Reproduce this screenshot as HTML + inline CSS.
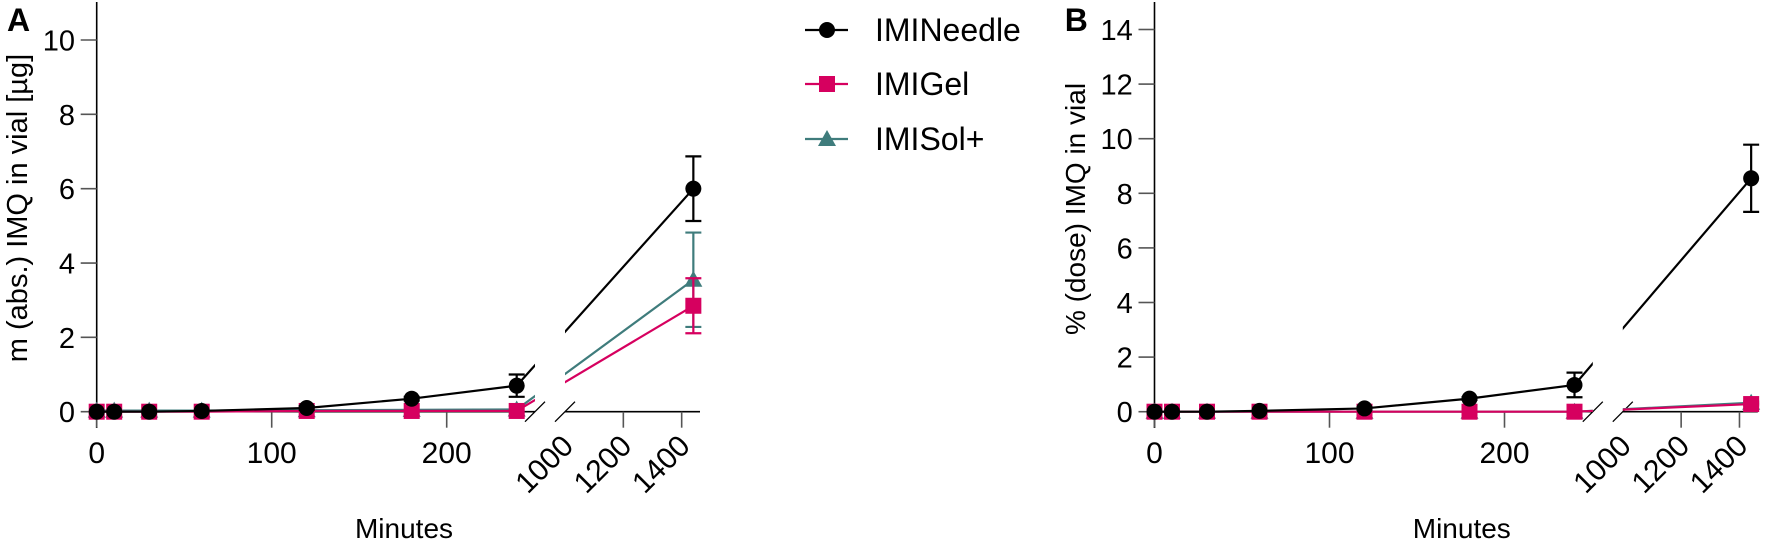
<!DOCTYPE html>
<html><head><meta charset="utf-8"><style>
html,body{margin:0;padding:0;background:#fff;}
svg{display:block;font-family:"Liberation Sans",Arial,sans-serif;}
</style></head><body>
<svg id="chart" width="1772" height="542" viewBox="0 0 1772 542" xmlns="http://www.w3.org/2000/svg"></svg>
<script>
const times = [0, 10, 30, 60, 120, 180, 240, 1440];
const seriesNames = ["IMINeedle", "IMIGel", "IMISol+"];
const aNeedle = [0, 0, 0, 0.02, 0.1, 0.35, 0.7, 6.0];
const aNeedleErr = [0, 0, 0, 0, 0.05, 0.05, 0.3, 0.87];
const aGel = [0, 0, 0, 0, 0.02, 0.02, 0.02, 2.85];
const aGelErr = [0, 0, 0, 0, 0, 0, 0, 0.74];
const aSol = [0.03, 0.03, 0.03, 0.03, 0.04, 0.05, 0.06, 3.55];
const aSolErr = [0, 0, 0, 0, 0, 0, 0, 1.27];
const bNeedle = [0, 0, 0, 0.03, 0.12, 0.48, 0.98, 8.55];
const bNeedleErr = [0, 0, 0, 0, 0.05, 0.05, 0.45, 1.23];
const bGel = [0, 0, 0, 0, 0, 0, 0, 0.28];
const bGelErr = [0, 0, 0, 0, 0, 0, 0, 0.05];
const bSol = [0, 0, 0, 0, 0, 0, 0, 0.33];
const bSolErr = [0, 0, 0, 0, 0, 0, 0, 0.05];
const aYTicks = [0, 2, 4, 6, 8, 10];
const bYTicks = [0, 2, 4, 6, 8, 10, 12, 14];
const xTicksLeft = [0, 100, 200];
const xTicksRight = [1000, 1200, 1400];

const NS = "http://www.w3.org/2000/svg";
const svg = document.getElementById("chart");
const colors = ["#000000", "#d6005f", "#3f7c7c"];
function mk(tag, attrs, parent) {
  const e = document.createElementNS(NS, tag);
  for (const k in attrs) e.setAttribute(k, attrs[k]);
  (parent || svg).appendChild(e);
  return e;
}

function panel(ox, yMax, yScale, yTicks, series, errs, letter, ylabel, pname, ylSize) {
  const g = mk("g", {});
  
  
  const y0 = 411.7;
  const X = t => t <= 500 ? ox + 96.7 + 1.75 * t : ox + 565 + 0.2917 * (t - 1000);
  const Y = v => y0 - v * yScale;
  const gapL = ox + 535, gapR = ox + 565, endR = ox + 700;
  const cid = pname + "-clip";
  const cp = mk("clipPath", { id: cid }, g);
  mk("rect", { x: 0, y: 0, width: gapL, height: 542 }, cp);
  mk("rect", { x: gapR, y: 0, width: 1772 - gapR, height: 542 }, cp);
  const ya = mk("line", { x1: ox + 96.7, y1: 2, x2: ox + 96.7, y2: 428, stroke: "#000", "stroke-width": 1.6 }, g);
  
  
  yTicks.forEach(v => {
    const tk = mk("line", { x1: ox + 80.7, y1: Y(v), x2: ox + 96.7, y2: Y(v), stroke: "#555", "stroke-width": 1.6 }, g);
    
    
    const tl = mk("text", { x: ox + 75, y: Y(v) + 10.5, "text-anchor": "end", "font-size": 29, fill: "#000" }, g);
    tl.textContent = v;
    
    
  });
  const xa1 = mk("line", { x1: ox + 96.7, y1: y0, x2: gapL, y2: y0, stroke: "#000", "stroke-width": 1.6 }, g);
  
  
  const xa2 = mk("line", { x1: gapR, y1: y0, x2: endR, y2: y0, stroke: "#000", "stroke-width": 1.6 }, g);
  
  
  [gapL, gapR].forEach(cx => {
    const b = mk("line", { x1: cx - 10, y1: y0 + 10, x2: cx + 10, y2: y0 - 10, stroke: "#000", "stroke-width": 1.3 }, g);
    
    
  });
  xTicksLeft.forEach(t => {
    const tk = mk("line", { x1: X(t), y1: y0, x2: X(t), y2: y0 + 16, stroke: "#555", "stroke-width": 1.6 }, g);
    
    
    const tl = mk("text", { x: X(t), y: 463, "text-anchor": "middle", "font-size": 30 }, g);
    tl.textContent = t;
    
    
  });
  xTicksRight.forEach(t => {
    if (t > 1000) {
      const tk = mk("line", { x1: X(t), y1: y0, x2: X(t), y2: y0 + 16, stroke: "#555", "stroke-width": 1.6 }, g);
      
      
    }
    const tl = mk("text", { x: 0, y: 0, "text-anchor": "end", "font-size": 30,
      transform: `translate(${X(t) + 10},${y0 + 36}) rotate(-45)` }, g);
    tl.textContent = t;
    
    
  });
  [2, 1, 0].forEach(si => {
    const vals = series[si], er = errs[si], col = colors[si];
    const sg = mk("g", {}, g);
    
    
    const pts = times.map((t, i) => X(t) + "," + Y(vals[i])).join(" ");
    const pl = mk("polyline", { points: pts, fill: "none", stroke: col, "stroke-width": 2.2, "clip-path": `url(#${cid})` }, sg);
    
    
    times.forEach((t, i) => {
      const x = X(t), y = Y(vals[i]);
      if (er[i] > 0.02) {
        const eg = mk("path", { d: `M${x},${Y(vals[i] + er[i])}V${Y(vals[i] - er[i])}M${x - 8},${Y(vals[i] + er[i])}H${x + 8}M${x - 8},${Y(vals[i] - er[i])}H${x + 8}`,
          stroke: col, "stroke-width": 2.2, fill: "none" }, sg);
        
        
      }
      let m;
      if (si === 0) m = mk("circle", { cx: x, cy: y, r: 8, fill: col }, sg);
      else if (si === 1) m = mk("rect", { x: x - 8, y: y - 8, width: 16, height: 16, fill: col }, sg);
      else m = mk("path", { d: `M${x},${y - 9}L${x + 9},${y + 7}L${x - 9},${y + 7}Z`, fill: col }, sg);
      
      
    });
  });
  const lt = mk("text", { x: ox + 7, y: 31, "font-size": 32, "font-weight": "bold" }, g);
  lt.textContent = letter;
  
  
  const yl = mk("text", { x: 0, y: 0, "text-anchor": "middle", "font-size": ylSize,
    transform: `translate(${ox + 27},${pname === 'panel-a' ? 208 : 209}) rotate(-90)` }, g);
  yl.textContent = ylabel;
  
  
  const xl = mk("text", { x: ox + 404, y: 538, "text-anchor": "middle", "font-size": 28 }, g);
  xl.textContent = "Minutes";
  
  
}

panel(0, 11, 37.17, aYTicks, [aNeedle, aGel, aSol], [aNeedleErr, aGelErr, aSolErr], "A", "m (abs.) IMQ in vial [µg]", "panel-a", 29);
panel(1057.8, 15, 27.3, bYTicks, [bNeedle, bGel, bSol], [bNeedleErr, bGelErr, bSolErr], "B", "% (dose) IMQ in vial", "panel-b", 28);

const lg = mk("g", {});


const rowsY = [30, 84, 139];
seriesNames.forEach((n, i) => {
  const e = mk("g", {}, lg);
  
  
  const y = rowsY[i], col = colors[i];
  mk("line", { x1: 805, y1: y, x2: 848, y2: y, stroke: col, "stroke-width": 2.2 }, e);
  if (i === 0) mk("circle", { cx: 827, cy: y, r: 8, fill: col }, e);
  else if (i === 1) mk("rect", { x: 819, y: y - 8, width: 16, height: 16, fill: col }, e);
  else mk("path", { d: `M827,${y - 9}L836,${y + 7}L818,${y + 7}Z`, fill: col }, e);
  const t = mk("text", { x: 875, y: y + 11, "font-size": 32 }, e);
  t.textContent = n;
});
</script>
</body></html>
